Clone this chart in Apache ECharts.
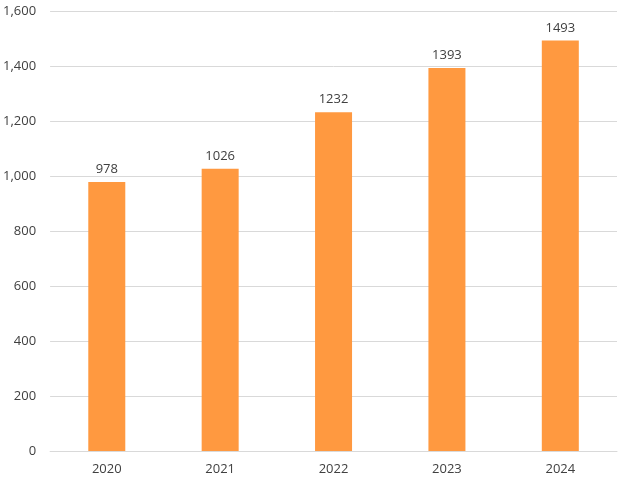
<!DOCTYPE html>
<html><head><meta charset="utf-8">
<script src="https://cdn.jsdelivr.net/npm/echarts@6/dist/echarts.min.js"></script>
<style>html,body{margin:0;padding:0;background:#fff}#c{width:626px;height:489px}</style>
</head><body><div id="c"></div>
<script>
const categories = ['2020','2021','2022','2023','2024'];
const values = [978,1026,1232,1393,1493];
const chart = echarts.init(document.getElementById('c'));
chart.setOption({
  animation:false,
  textStyle:{fontFamily:'Open Sans, sans-serif'},
  grid:{left:50,right:9,top:11,bottom:38},
  xAxis:{type:'category',data:categories,
    axisLine:{lineStyle:{color:'#d9d9d9'}},axisTick:{show:false},
    axisLabel:{color:'#404040',fontSize:13,margin:12}},
  yAxis:{type:'value',min:0,max:1600,interval:200,
    axisLine:{show:false},axisTick:{show:false},
    splitLine:{lineStyle:{color:'#d9d9d9'}},
    axisLabel:{color:'#404040',fontSize:13,margin:14}},
  series:[{type:'bar',data:values,barWidth:37,
    itemStyle:{color:'#FF9940'},
    label:{show:true,position:'top',color:'#404040',fontSize:13,distance:6}}]
});
</script></body></html>
